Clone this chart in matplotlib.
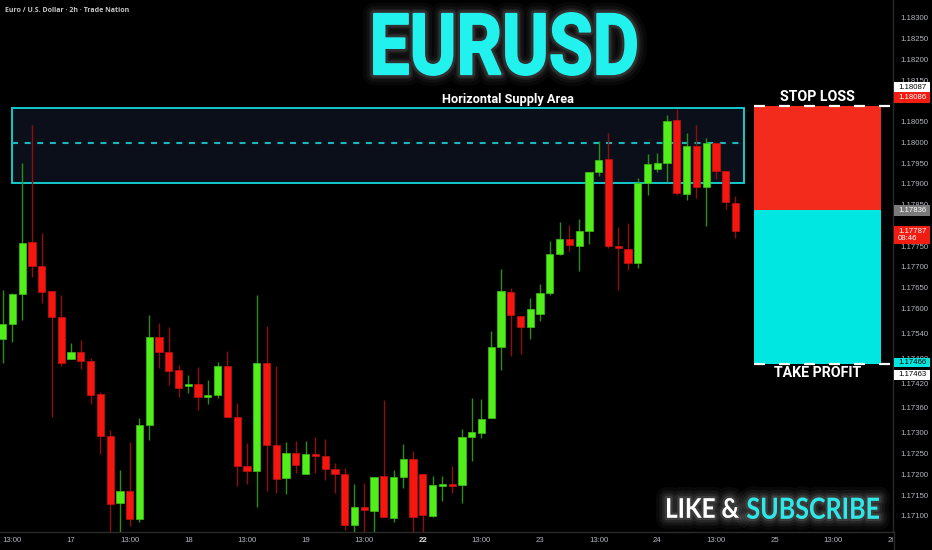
import numpy as np
import matplotlib
matplotlib.use("Agg")
import matplotlib.pyplot as plt
import matplotlib.patheffects as pe
from matplotlib.patches import Rectangle, PathPatch
from matplotlib.lines import Line2D
from matplotlib.textpath import TextPath
from matplotlib.font_manager import FontProperties
from matplotlib.transforms import Affine2D, IdentityTransform, offset_copy, Bbox, TransformedBbox

plt.rcParams['font.family'] = ['Liberation Sans', 'DejaVu Sans']
plt.rcParams['lines.scale_dashes'] = False

W, H = 932, 550

# EURUSD 2h candles
opens = [1.17527, 1.17562, 1.17635, 1.17759, 1.17701, 1.17641, 1.17578, 1.17477, 1.17495, 1.17473,
         1.17393, 1.17293, 1.17130, 1.17159, 1.17092, 1.17319, 1.17530, 1.17494, 1.17452, 1.17414,
         1.17417, 1.17387, 1.17392, 1.17460, 1.17338, 1.17219, 1.17207, 1.17469, 1.17270, 1.17191,
         1.17251, 1.17200, 1.17248, 1.17244, 1.17213, 1.17200, 1.17077, 1.17122, 1.17112, 1.17195,
         1.17095, 1.17194, 1.17236, 1.17201, 1.17100, 1.17173, 1.17176, 1.17174, 1.17291, 1.17300,
         1.17335, 1.17507, 1.17639, 1.17582, 1.17556, 1.17586, 1.17638, 1.17731, 1.17767, 1.17751,
         1.17787, 1.17929, 1.17959, 1.17750, 1.17744, 1.17709, 1.17902, 1.17935, 1.17951, 1.18054,
         1.17876, 1.17991, 1.17892, 1.17998, 1.17930, 1.17855]
highs = [1.17643, 1.17636, 1.17951, 1.18042, 1.17781, 1.17641, 1.17632, 1.17516, 1.17524, 1.17481,
         1.17399, 1.17307, 1.17211, 1.17277, 1.17335, 1.17584, 1.17564, 1.17556, 1.17464, 1.17440,
         1.17458, 1.17428, 1.17471, 1.17497, 1.17373, 1.17275, 1.17631, 1.17558, 1.17461, 1.17279,
         1.17281, 1.17281, 1.17289, 1.17285, 1.17228, 1.17215, 1.17177, 1.17179, 1.17194, 1.17378,
         1.17211, 1.17273, 1.17256, 1.17201, 1.17195, 1.17195, 1.17220, 1.17309, 1.17383, 1.17382,
         1.17546, 1.17694, 1.17648, 1.17582, 1.17624, 1.17658, 1.17762, 1.17807, 1.17800, 1.17815,
         1.17929, 1.18003, 1.18023, 1.17797, 1.17805, 1.17915, 1.17972, 1.17974, 1.18066, 1.18080,
         1.18023, 1.18041, 1.18010, 1.17998, 1.17930, 1.17871]
lows = [1.17468, 1.17519, 1.17572, 1.17676, 1.17614, 1.17339, 1.17460, 1.17477, 1.17453, 1.17370,
        1.17249, 1.17040, 1.17045, 1.17076, 1.17086, 1.17283, 1.17456, 1.17415, 1.17386, 1.17395,
        1.17354, 1.17370, 1.17385, 1.17337, 1.17173, 1.17177, 1.17122, 1.17161, 1.17155, 1.17153,
        1.17204, 1.17200, 1.17204, 1.17187, 1.17156, 1.17065, 1.17040, 1.17055, 1.17050, 1.17097,
        1.17085, 1.17166, 1.17060, 1.17060, 1.17097, 1.17136, 1.17156, 1.17130, 1.17233, 1.17287,
        1.17335, 1.17452, 1.17484, 1.17490, 1.17525, 1.17569, 1.17631, 1.17728, 1.17738, 1.17689,
        1.17755, 1.17918, 1.17745, 1.17643, 1.17693, 1.17698, 1.17872, 1.17929, 1.17905, 1.17872,
        1.17861, 1.17867, 1.17799, 1.17911, 1.17839, 1.17769]
closes = [1.17562, 1.17634, 1.17758, 1.17703, 1.17640, 1.17579, 1.17468, 1.17495, 1.17472, 1.17391,
          1.17292, 1.17129, 1.17161, 1.17092, 1.17319, 1.17530, 1.17494, 1.17450, 1.17407, 1.17417,
          1.17387, 1.17392, 1.17461, 1.17338, 1.17220, 1.17207, 1.17469, 1.17271, 1.17189, 1.17252,
          1.17223, 1.17248, 1.17244, 1.17213, 1.17200, 1.17077, 1.17122, 1.17113, 1.17194, 1.17097,
          1.17193, 1.17237, 1.17098, 1.17102, 1.17174, 1.17176, 1.17173, 1.17290, 1.17301, 1.17334,
          1.17508, 1.17642, 1.17584, 1.17556, 1.17599, 1.17637, 1.17732, 1.17767, 1.17752, 1.17787,
          1.17929, 1.17958, 1.17749, 1.17745, 1.17709, 1.17902, 1.17948, 1.17951, 1.18052, 1.17877,
          1.17992, 1.17892, 1.17999, 1.17930, 1.17856, 1.17787]

time_labels = ['13:00', '17', '13:00', '18', '13:00', '19', '13:00', '22',
               '13:00', '23', '13:00', '24', '13:00', '25', '13:00', '26']
time_label_bars = [1, 7, 13, 19, 25, 31, 37, 43, 49, 55, 61, 67, 73, 79, 85, 91]

# 1.18100 and 1.17800 sit fully under the price tags, so they are left out
price_ticks = [1.18300, 1.18250, 1.18200, 1.18150, 1.18050, 1.18000, 1.17950, 1.17900,
               1.17850, 1.17750, 1.17700, 1.17650, 1.17600, 1.17540, 1.17480, 1.17420,
               1.17360, 1.17300, 1.17250, 1.17200, 1.17150, 1.17100]

# supply zone and trade setup
supply_top, supply_mid, supply_bottom = 1.18082, 1.17999, 1.17903
stop_loss, entry, take_profit = 1.18087, 1.17836, 1.17466
last_price = 1.17787
sl_tag, tp_tag = 1.18086, 1.17463

fig = plt.figure(figsize=(W / 100, H / 100), dpi=100, facecolor='black')
ax = fig.add_axes([0, 18 / H, 893 / W, 532 / H], facecolor='black')
ax.set_xlim(-0.276, 91.12)
ax.set_ylim(1.17061, 1.18343)

for s in ['left', 'top']:
    ax.spines[s].set_visible(False)
for s in ['right', 'bottom']:
    ax.spines[s].set_color('#2a2a2a')
    ax.spines[s].set_linewidth(1)
fig.add_artist(Line2D([893.5, 893.5], [0, 18], transform=IdentityTransform(), color='#2a2a2a', lw=1))

ax.yaxis.tick_right()
ax.set_yticks(price_ticks)
ax.set_yticklabels([f'{v:.5f}' for v in price_ticks])
ax.tick_params(axis='y', length=0, pad=5, labelsize=5.6, labelcolor='#b4b7bf')
ax.set_xticks([])

# time axis labels
tlab = offset_copy(ax.get_xaxis_transform(), fig=fig, y=-9, units='dots')
clip = TransformedBbox(Bbox.from_extents(0, -0.1, 1, 1), ax.transAxes)
for lab, pos in zip(time_labels, time_label_bars):
    t = ax.text(pos, 0, lab, transform=tlab, ha='center', va='center', fontsize=5.6,
                color='#e0e0e0' if lab == '22' else '#b4b7bf',
                fontweight='bold' if lab == '22' else 'normal')
    t.set_clip_path(None)
    t.set_clip_box(clip)
    t.set_clip_on(True)

# supply zone
ax.add_patch(Rectangle((0.95, supply_bottom), 75.9 - 0.95, supply_top - supply_bottom,
                       facecolor='#0a0f1a', edgecolor='#14d9dc', lw=1.3, zorder=1))
ax.hlines(supply_mid, 0.95, 75.9, colors='#1ab8bd', lw=1.5, linestyles=(0, (4.3, 4.8)), zorder=2)
ax.text(51.7, supply_top, 'Horizontal Supply Area',
        transform=offset_copy(ax.transData, fig=fig, y=5, units='dots'),
        ha='center', va='baseline', color='white', fontsize=9.2, family='Roboto', fontweight='bold',
        zorder=5)

# candles
o = np.array(opens)
c = np.array(closes)
x = np.arange(len(o))
up = c >= o
body_col = np.where(up, '#52ee1c', '#f4160f')
edge_col = np.where(up, '#3fc214', '#c81010')
wick_col = np.where(up, '#2f8c14', '#8f0e0e')
min_h = 1.4 / 41500
ax.vlines(x, lows, highs, colors=wick_col, lw=1, zorder=3)
ax.bar(x, np.maximum(np.abs(c - o), min_h), bottom=np.minimum(o, c), width=0.74,
       color=body_col, edgecolor=edge_col, lw=0.5, zorder=4)

# risk / reward box
rx0, rx1 = 76.9, 89.9
ax.add_patch(Rectangle((rx0, entry), rx1 - rx0, stop_loss - entry, facecolor='#f22b1d', lw=0, zorder=5))
ax.add_patch(Rectangle((rx0, take_profit), rx1 - rx0, entry - take_profit, facecolor='#00e6e0', lw=0, zorder=5))
ax.hlines([stop_loss, take_profit], rx0, 91.12, colors='white', lw=1.6,
          linestyles=(0, (7.9, 10.1)), zorder=6)
mid_x = (rx0 + rx1) / 2
ax.text(mid_x, stop_loss, 'STOP LOSS', transform=offset_copy(ax.transData, fig=fig, y=5, units='dots'),
        ha='center', va='baseline', color='white', fontsize=10.2, family='Roboto', fontweight='bold', zorder=7)
ax.text(mid_x, take_profit, 'TAKE PROFIT', transform=offset_copy(ax.transData, fig=fig, y=-13.5, units='dots'),
        ha='center', va='baseline', color='white', fontsize=10.2, family='Roboto', fontweight='bold', zorder=7)


# price tags on the right scale
def price_tag(value, text, bg, fg, dy, h=10.5, sub=None):
    yd = ax.transData.transform((0, value))[1] + dy
    fig.add_artist(Rectangle((894, yd - h / 2), 36, h, transform=IdentityTransform(),
                             facecolor=bg, edgecolor='none', zorder=20))
    ty = yd + (3.5 if sub else 0)
    fig.text(898, ty, text, transform=IdentityTransform(), ha='left', va='center',
             fontsize=5.6, color=fg, zorder=21)
    if sub:
        fig.text(898, yd - 4, sub, transform=IdentityTransform(), ha='left', va='center',
                 fontsize=5.6, color=fg, zorder=21)


price_tag(stop_loss, f'{stop_loss:.5f}', 'white', 'black', 19)
price_tag(sl_tag, f'{sl_tag:.5f}', '#f21d12', 'white', 9.3)
price_tag(entry, f'{entry:.5f}', '#7a7a7a', 'white', 0)
price_tag(last_price, f'{last_price:.5f}', '#f21d12', 'white', -4, h=18, sub='08:46')
price_tag(take_profit, f'{take_profit:.5f}', '#00e6e0', 'black', 1.6, h=9.5)
price_tag(tp_tag, f'{tp_tag:.5f}', 'white', 'black', -9.8)

fig.text(5, H - 10, 'Euro / U.S. Dollar · 2h · Trade Nation', transform=IdentityTransform(),
         ha='left', va='center', fontsize=5.0, color='#c9c9c9', family='Open Sans', fontweight='bold')


# big glowing texts
def glow_text(s, left, right, top, bottom, color, prop, glow, thick=0.0):
    tp = TextPath((0, 0), s, size=100, prop=prop)
    b = tp.get_extents()
    tr = Affine2D().translate(-b.x0, -b.y0).scale((right - left) / b.width, (bottom - top) / b.height)
    tr = tr.translate(left, H - bottom)
    p = PathPatch(tp, transform=tr, facecolor=color, edgecolor=color if thick else 'none',
                  lw=thick, joinstyle='round', zorder=30)
    effects = [pe.Stroke(linewidth=w, foreground=glow, alpha=a, joinstyle='round')
               for w, a in [(16, 0.05), (11, 0.07), (7, 0.1), (3.5 + thick, 0.15)]]
    p.set_path_effects(effects + [pe.Normal()])
    fig.add_artist(p)


glow_text('EURUSD', 374, 636, 13, 75, '#22f2ee', FontProperties(family='Roboto', weight='bold'),
          '#9a9a9a', thick=1.4)
glow_text('LIKE &', 667, 739, 498, 518, 'white', FontProperties(family='Lato', weight='bold'), '#bbbbbb')
glow_text('SUBSCRIBE', 747, 879, 497.5, 519, '#2ee8e8', FontProperties(family='Lato', weight='bold'), '#bbbbbb')

fig.savefig('out.png', dpi=100, facecolor='black')
